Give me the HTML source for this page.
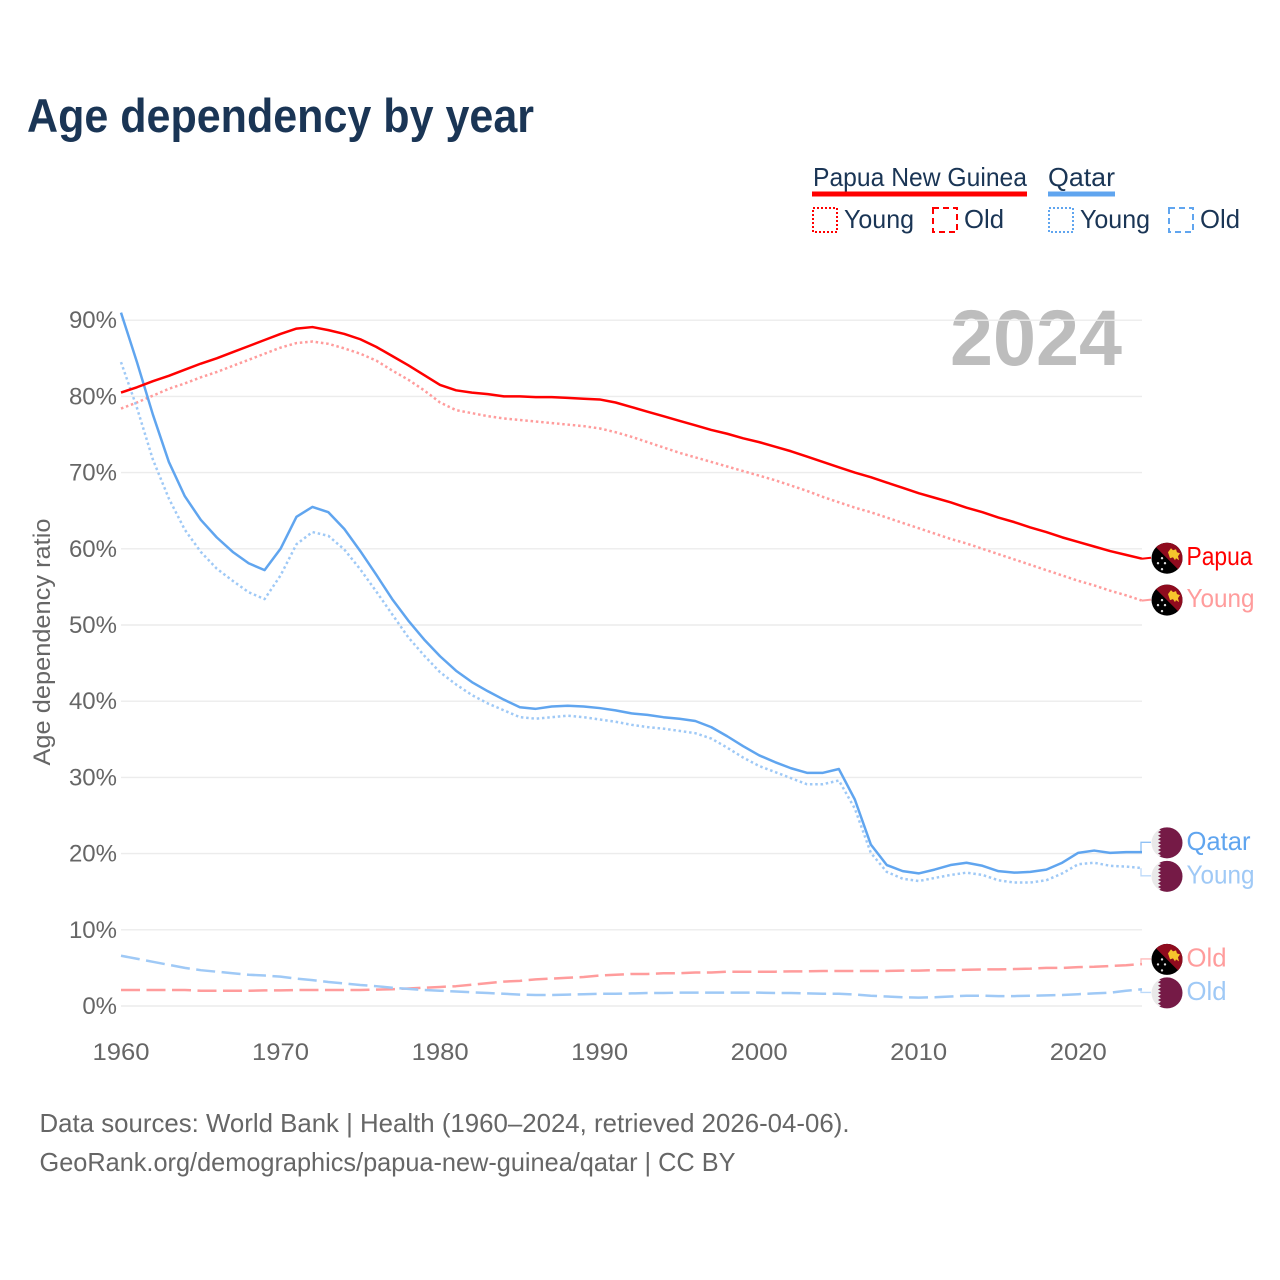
<!DOCTYPE html>
<html lang="en">
<head>
<meta charset="utf-8">
<title>Age dependency by year</title>
<style>
html,body{margin:0;padding:0;background:#fff;}
svg{display:block;font-family:"Liberation Sans",sans-serif;}
</style>
</head>
<body>
<svg id="chart" xmlns="http://www.w3.org/2000/svg" width="1280" height="1280" viewBox="0 0 1280 1280">
  <rect width="1280" height="1280" fill="#fff"/>
  <text x="27" y="132" font-size="47" font-weight="700" fill="#1a3555" textLength="507" lengthAdjust="spacingAndGlyphs">Age dependency by year</text>

  <g fill="#1a3555" font-size="26">
    <text x="813" y="186" textLength="214" lengthAdjust="spacingAndGlyphs">Papua New Guinea</text>
    <rect x="812" y="191.5" width="215" height="5" fill="#ff0000"/>
    <text x="1048" y="186" textLength="67" lengthAdjust="spacingAndGlyphs">Qatar</text>
    <rect x="1048" y="191.5" width="67" height="5" fill="#60a5ef"/>
    <rect x="813" y="208" width="24" height="24" fill="none" stroke="#ff0000" stroke-width="2" stroke-dasharray="2 2"/>
    <text x="844" y="228" textLength="70" lengthAdjust="spacingAndGlyphs">Young</text>
    <rect x="933" y="208" width="24" height="24" fill="none" stroke="#ff0000" stroke-width="2" stroke-dasharray="6 4"/>
    <text x="964" y="228" textLength="40" lengthAdjust="spacingAndGlyphs">Old</text>
    <rect x="1049" y="208" width="24" height="24" fill="none" stroke="#60a5ef" stroke-width="2" stroke-dasharray="2 2"/>
    <text x="1080" y="228" textLength="70" lengthAdjust="spacingAndGlyphs">Young</text>
    <rect x="1169" y="208" width="24" height="24" fill="none" stroke="#60a5ef" stroke-width="2" stroke-dasharray="6 4"/>
    <text x="1200" y="228" textLength="40" lengthAdjust="spacingAndGlyphs">Old</text>
  </g>

  <text x="950" y="365" font-size="79" font-weight="700" fill="#bdbdbd" textLength="172" lengthAdjust="spacingAndGlyphs">2024</text>
  <text transform="translate(50,642) rotate(-90)" text-anchor="middle" font-size="24" fill="#666" textLength="247" lengthAdjust="spacingAndGlyphs">Age dependency ratio</text>

  <g id="grid"></g>
  <g id="yticks"></g>
  <g id="xticks"></g>
  <g id="series"></g>
  <g id="labels"></g>

  <g font-size="26" fill="#666">
    <text x="39.5" y="1132" textLength="810" lengthAdjust="spacingAndGlyphs">Data sources: World Bank | Health (1960–2024, retrieved 2026-04-06).</text>
    <text x="39.5" y="1171" textLength="696" lengthAdjust="spacingAndGlyphs">GeoRank.org/demographics/papua-new-guinea/qatar | CC BY</text>
  </g>
</svg>
<script>
var startYear = 1960;
var endYear = 2024;
var yTickValues = [0, 10, 20, 30, 40, 50, 60, 70, 80, 90];
var xTickYears = [1960, 1970, 1980, 1990, 2000, 2010, 2020];

var papuaTotal = [80.5,81.2,82.0,82.7,83.5,84.3,85.0,85.8,86.6,87.4,88.2,88.9,89.1,88.7,88.2,87.5,86.5,85.3,84.1,82.8,81.5,80.8,80.5,80.3,80.0,80.0,79.9,79.9,79.8,79.7,79.6,79.2,78.6,78.0,77.4,76.8,76.2,75.6,75.1,74.5,74.0,73.4,72.8,72.1,71.4,70.7,70.0,69.4,68.7,68.0,67.3,66.7,66.1,65.4,64.8,64.1,63.5,62.8,62.2,61.5,60.9,60.3,59.7,59.2,58.7];
var papuaYoung = [78.4,79.2,80.1,81.0,81.7,82.5,83.2,84.0,84.8,85.6,86.4,87.0,87.2,86.9,86.3,85.6,84.7,83.4,82.2,80.8,79.2,78.2,77.8,77.4,77.1,76.9,76.7,76.5,76.3,76.1,75.8,75.3,74.7,74.0,73.3,72.6,72.0,71.4,70.8,70.2,69.6,69.0,68.3,67.6,66.8,66.1,65.4,64.8,64.1,63.4,62.7,62.0,61.3,60.7,60.0,59.3,58.6,57.9,57.2,56.5,55.8,55.2,54.5,53.9,53.2];
var papuaOld = [2.1,2.1,2.1,2.1,2.1,2.0,2.0,2.0,2.0,2.05,2.05,2.1,2.1,2.1,2.1,2.1,2.15,2.2,2.3,2.4,2.5,2.6,2.8,3.0,3.2,3.3,3.5,3.6,3.7,3.8,4.0,4.1,4.2,4.2,4.3,4.3,4.4,4.4,4.5,4.5,4.5,4.5,4.55,4.55,4.6,4.6,4.6,4.6,4.6,4.65,4.65,4.7,4.7,4.75,4.8,4.8,4.85,4.9,5.0,5.0,5.1,5.15,5.25,5.35,5.5];
var qatarTotal = [91.0,84.5,77.6,71.4,66.9,63.8,61.5,59.6,58.1,57.2,60.0,64.2,65.5,64.8,62.6,59.7,56.6,53.4,50.6,48.1,45.9,44.0,42.5,41.3,40.2,39.2,39.0,39.3,39.4,39.3,39.1,38.8,38.4,38.2,37.9,37.7,37.4,36.6,35.4,34.1,32.9,32.0,31.2,30.6,30.6,31.1,27.1,21.2,18.5,17.7,17.4,17.9,18.5,18.8,18.4,17.7,17.5,17.6,17.9,18.8,20.1,20.4,20.1,20.2,20.2];
var qatarYoung = [84.5,78.5,71.7,66.6,62.5,59.6,57.4,55.8,54.3,53.4,56.5,60.6,62.2,61.7,59.9,57.3,54.4,51.4,48.4,46.0,43.8,42.2,40.8,39.7,38.8,37.9,37.7,37.9,38.1,37.9,37.6,37.3,36.9,36.6,36.4,36.1,35.8,35.1,33.9,32.6,31.5,30.7,29.9,29.1,29.1,29.6,25.9,20.1,17.6,16.7,16.4,16.8,17.2,17.5,17.2,16.5,16.2,16.2,16.5,17.4,18.6,18.8,18.4,18.3,18.1];
var qatarOld = [6.6,6.2,5.8,5.4,5.0,4.7,4.5,4.3,4.1,4.0,3.85,3.6,3.4,3.15,2.95,2.75,2.6,2.4,2.25,2.1,2.0,1.9,1.8,1.7,1.6,1.5,1.45,1.45,1.5,1.55,1.6,1.6,1.65,1.7,1.7,1.75,1.75,1.75,1.75,1.75,1.75,1.7,1.7,1.65,1.6,1.6,1.5,1.35,1.25,1.15,1.1,1.15,1.25,1.35,1.35,1.3,1.3,1.35,1.4,1.45,1.55,1.65,1.75,2.0,2.2];

var seriesNames = ["Papua", "Young", "Old", "Qatar", "Young", "Old"];

var SVG_NS = "http://www.w3.org/2000/svg";
function xScale(year) { return 121 + (year - startYear) * (1142 - 121) / (endYear - startYear); }
function yScale(v) { return 1006 - v * (1006 - 320.2) / 90; }
function make(tag, parent) {
  var el = document.createElementNS(SVG_NS, tag);
  parent.appendChild(el);
  return el;
}
function setAll(el, props) {
  for (var k in props) el.setAttribute(k, props[k]);
}

var grid = document.getElementById("grid");
var yticks = document.getElementById("yticks");
var xticks = document.getElementById("xticks");
yTickValues.forEach(function (v) {
  var l = make("line", grid);
  
  
  setAll(l, {x1: 121, x2: 1142, y1: yScale(v), y2: yScale(v), stroke: "#ececec", "stroke-width": 1.4});
  var t = make("text", yticks);
  
  
  setAll(t, {x: 117, y: yScale(v) + 8, "text-anchor": "end", "font-size": 24, fill: "#666"});
  t.textContent = v + "%";
});
xTickYears.forEach(function (y) {
  var t = make("text", xticks);
  
  
  setAll(t, {x: xScale(y), y: 1060, "text-anchor": "middle", "font-size": 24, fill: "#666", textLength: 57, lengthAdjust: "spacingAndGlyphs"});
  t.textContent = String(y);
});

var seriesGroup = document.getElementById("series");
var labelsGroup = document.getElementById("labels");
var RED = "#ff0000", BLUE = "#60a5ef", LRED = "#ff9c9c", LBLUE = "#9fc9f6";
var DOT = "2.5 2.8", DASH = "19 6.5";

function linePath(values) {
  return values.map(function (v, i) {
    return (i ? "L" : "M") + xScale(startYear + i).toFixed(2) + " " + yScale(v).toFixed(2);
  }).join("");
}

var defs = [
  {values: papuaOld, color: LRED, dash: DASH, flag: "png", label: seriesNames[2], width: 2.5},
  {values: qatarOld, color: LBLUE, dash: DASH, flag: "qa", label: seriesNames[5], width: 2.5},
  {values: papuaYoung, color: LRED, dash: DOT, flag: "png", label: seriesNames[1], width: 2.5},
  {values: qatarYoung, color: LBLUE, dash: DOT, flag: "qa", label: seriesNames[4], width: 2.5},
  {values: qatarTotal, color: BLUE, dash: null, flag: "qa", label: seriesNames[3], width: 2.5},
  {values: papuaTotal, color: RED, dash: null, flag: "png", label: seriesNames[0], width: 2.5}
];

defs.forEach(function (d) {
  var p = make("path", seriesGroup);
  
  
  setAll(p, {d: linePath(d.values), fill: "none", stroke: d.color, "stroke-width": d.width, "stroke-linejoin": "round"});
  if (d.dash) p.setAttribute("stroke-dasharray", d.dash);
  d.endY = yScale(d.values[d.values.length - 1]);
  d.labelY = d.endY;
});

/* push end labels apart so they do not overlap */
var ordered = defs.slice().sort(function (a, b) { return a.endY - b.endY; });
var GAP = 33.5;
var clusters = ordered.map(function (d) { return {items: [d], center: d.endY}; });
var merged = true;
while (merged) {
  merged = false;
  for (var i = 0; i < clusters.length - 1; i++) {
    var a = clusters[i], b = clusters[i + 1];
    var aBottom = a.center + (a.items.length - 1) * GAP / 2;
    var bTop = b.center - (b.items.length - 1) * GAP / 2;
    if (bTop - aBottom < GAP) {
      var items = a.items.concat(b.items);
      var center = items.reduce(function (s, it) { return s + it.endY; }, 0) / items.length;
      clusters.splice(i, 2, {items: items, center: center});
      merged = true;
      break;
    }
  }
}
clusters.forEach(function (c) {
  c.items.forEach(function (it, k) {
    it.labelY = c.center + (k - (c.items.length - 1) / 2) * GAP - 1;
  });
});

function drawPngFlag(parent, cy, id) {
  var clip = make("clipPath", parent);
  clip.setAttribute("id", id);
  var cc = make("circle", clip);
  setAll(cc, {cx: 1167, cy: cy, r: 15.5});
  var g = make("g", parent);
  
  
  g.setAttribute("clip-path", "url(#" + id + ")");
  var x0 = 1167, y0 = cy;
  var back = make("rect", g);
  setAll(back, {x: x0 - 16, y: y0 - 16, width: 32, height: 32, fill: "#000"});
  var red = make("path", g);
  setAll(red, {d: "M" + (x0 - 16) + " " + (y0 - 16) + "H" + (x0 + 16) + "V" + (y0 + 16) + "Z", fill: "#8f0b1e"});
  var bird = make("path", g);
  setAll(bird, {d: "M" + (x0 + 1) + " " + (y0 - 6) + "l3 -4 2 2 3 -1 1 3 3 1 -2 3 1 4 -3 -2 -1 2 -2 -3 -3 1 z", fill: "#f6c52c"});
  [[-5, 0], [-9, 5], [-2, 5], [-5, 11]].forEach(function (s) {
    var st = make("circle", g);
    setAll(st, {cx: x0 + s[0], cy: y0 + s[1], r: 1.2, fill: "#ddd"});
  });
}

function drawQatarFlag(parent, cy, id) {
  var clip = make("clipPath", parent);
  clip.setAttribute("id", id);
  var cc = make("circle", clip);
  setAll(cc, {cx: 1167, cy: cy, r: 15.5});
  var g = make("g", parent);
  
  
  g.setAttribute("clip-path", "url(#" + id + ")");
  var back = make("rect", g);
  setAll(back, {x: 1151, y: cy - 16, width: 32, height: 32, fill: "#e9e9e9"});
  var d = "M1183 " + (cy - 16) + "H1161";
  for (var k = 0; k < 9; k++) {
    var yy = cy - 16 + k * 32 / 9;
    d += "L1158 " + (yy + 16 / 9) + "L1161 " + (yy + 32 / 9);
  }
  d += "H1183Z";
  var m = make("path", g);
  setAll(m, {d: d, fill: "#751a46"});
}

var flagIndex = 0;
defs.forEach(function (d) {
  var c = make("path", labelsGroup);
  
  
  var sameRow = Math.abs(d.labelY - d.endY) < 2;
  setAll(c, {
    d: sameRow ? "M1142 " + d.endY + "L1151 " + d.labelY
               : "M1141 " + d.endY + "V" + d.labelY + "H1151",
    fill: "none", stroke: d.dash ? d.color : (sameRow ? d.color : BLUE), "stroke-width": sameRow ? 2 : 1.3, opacity: sameRow ? 1 : 0.7
  });
  flagIndex++;
  if (d.flag === "png") drawPngFlag(labelsGroup, d.labelY + 0.5, "flag-clip-" + flagIndex);
  else drawQatarFlag(labelsGroup, d.labelY + 0.5, "flag-clip-" + flagIndex);
  var t = make("text", labelsGroup);
  
  
  var w = {Papua: 66, Young: 68, Old: 40, Qatar: 64}[d.label];
  setAll(t, {x: 1186.5, y: d.labelY + 7.5, "font-size": 26, fill: d.color, textLength: w, lengthAdjust: "spacingAndGlyphs"});
  t.textContent = d.label;
});
</script>
</body>
</html>
